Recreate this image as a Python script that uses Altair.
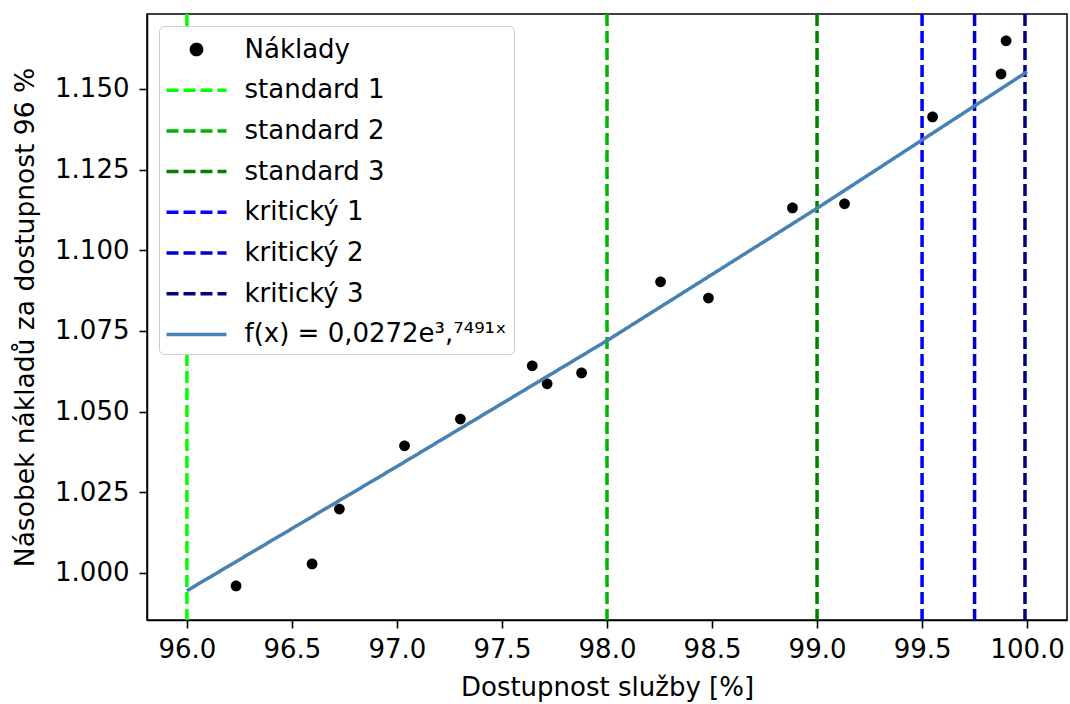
import altair as alt
import pandas as pd

# ---- data ----
series_names = ["Náklady", "standard  1", "standard  2", "standard  3",
                "kritický 1", "kritický 2", "kritický 3",
                "f(x) = 0,0272e³,⁷⁴⁹¹ˣ"]
series_colors = ["#000000", "#00ff00", "#00b400", "#008000",
                 "#0000ff", "#0000cd", "#000080", "#4682b4"]

cost_x = [96.234, 96.596, 96.726, 97.036, 97.302, 97.644, 97.715, 97.879,
          98.255, 98.483, 98.883, 99.131, 99.550, 99.876, 99.900]
cost_y = [0.9960, 1.0028, 1.0198, 1.0394, 1.0477, 1.0642, 1.0586, 1.0620,
          1.0902, 1.0852, 1.1131, 1.1144, 1.1413, 1.1546, 1.1649]

threshold_names = series_names[1:7]
threshold_x = [96.0, 98.0, 99.0, 99.5, 99.75, 99.99]

fit_x = [96.0, 97.0, 98.0, 99.0, 100.0]
fit_y = [0.9945, 1.0330, 1.0720, 1.1130, 1.1553]

x_ticks = [96.0, 96.5, 97.0, 97.5, 98.0, 98.5, 99.0, 99.5, 100.0]
y_ticks = [1.000, 1.025, 1.050, 1.075, 1.100, 1.125, 1.150]

x_domain = [95.81, 100.19]
y_domain = [0.98543, 1.1732]

# ---- tables ----
points_df = pd.DataFrame({"x": cost_x, "y": cost_y, "series": series_names[0]})
rules_df = pd.DataFrame({"x": threshold_x, "series": threshold_names})
fit_df = pd.DataFrame({"x": fit_x, "y": fit_y, "series": series_names[7]})

FONT = "DejaVu Sans"
# symbol paths in the unit square space (scaled by sqrt(size)/2)
dot_path = "M0.34,0A0.34,0.34,0,1,1,-0.34,0A0.34,0.34,0,1,1,0.34,0Z"
line_path = "M-2,0L2,0"
dash = [12, 5]

legend = alt.Legend(
    title=None, orient="top-left", offset=12, padding=6.5,
    fillColor="white", strokeColor="#cccccc", cornerRadius=5,
    labelFont=FONT, labelFontSize=26, labelColor="black", labelLimit=500,
    symbolSize=900, symbolStrokeWidth=3.5, symbolOffset=14, labelOffset=31,
    rowPadding=10.7, symbolFillColor="black",
)

color_enc = alt.Color("series:N", scale=alt.Scale(domain=series_names, range=series_colors),
                      legend=legend)
dash_enc = alt.StrokeDash("series:N",
                          scale=alt.Scale(domain=series_names,
                                          range=[[1, 0]] + [dash] * 6 + [[1, 0]]),
                          legend=legend)
shape_enc = alt.Shape("series:N",
                      scale=alt.Scale(domain=series_names,
                                      range=[dot_path] + [line_path] * 7),
                      legend=legend)

x_scale = alt.Scale(domain=x_domain, nice=False, zero=False)
y_scale = alt.Scale(domain=y_domain, nice=False, zero=False)

x_axis = alt.Axis(title="Dostupnost služby [%]", values=x_ticks, format=".1f",
                  labelPadding=8, titlePadding=12, grid=False)
y_axis = alt.Axis(title="Násobek nákladů za dostupnost 96 %", values=y_ticks, format=".3f",
                  labelPadding=10, titlePadding=15, titleFontSize=26.5, grid=False)

rules = alt.Chart(rules_df).mark_rule(strokeWidth=3.5).encode(
    x=alt.X("x:Q", scale=x_scale, axis=x_axis),
    color=color_enc,
    strokeDash=dash_enc,
)

points = alt.Chart(points_df).mark_point(filled=True, size=1000, opacity=1).encode(
    x=alt.X("x:Q", scale=x_scale, axis=x_axis),
    y=alt.Y("y:Q", scale=y_scale, axis=y_axis),
    color=color_enc,
    shape=shape_enc,
)

fit = alt.Chart(fit_df).mark_line(strokeWidth=3.5).encode(
    x=alt.X("x:Q", scale=x_scale, axis=x_axis),
    y=alt.Y("y:Q", scale=y_scale, axis=y_axis),
    color=color_enc,
    strokeDash=dash_enc,
)

chart = alt.layer(points, rules, fit).properties(
    width=920, height=606,
    autosize=alt.AutoSizeParams(type="none"),
    padding={"left": 147, "top": 14, "right": 3, "bottom": 84},
    background="white",
).configure(
    font=FONT,
).configure_view(
    stroke="black", strokeWidth=1.5
).configure_axis(
    grid=False, domainColor="black", domainWidth=1.5,
    tickColor="black", tickSize=8, tickWidth=1.6,
    labelFont=FONT, labelFontSize=26, labelColor="black",
    titleFont=FONT, titleFontSize=26, titleFontWeight="normal", titleColor="black",
).configure_legend(
    labelFont=FONT, labelFontSize=26,
)

chart.save("out.html", embed_options={"renderer": "svg", "actions": False})
